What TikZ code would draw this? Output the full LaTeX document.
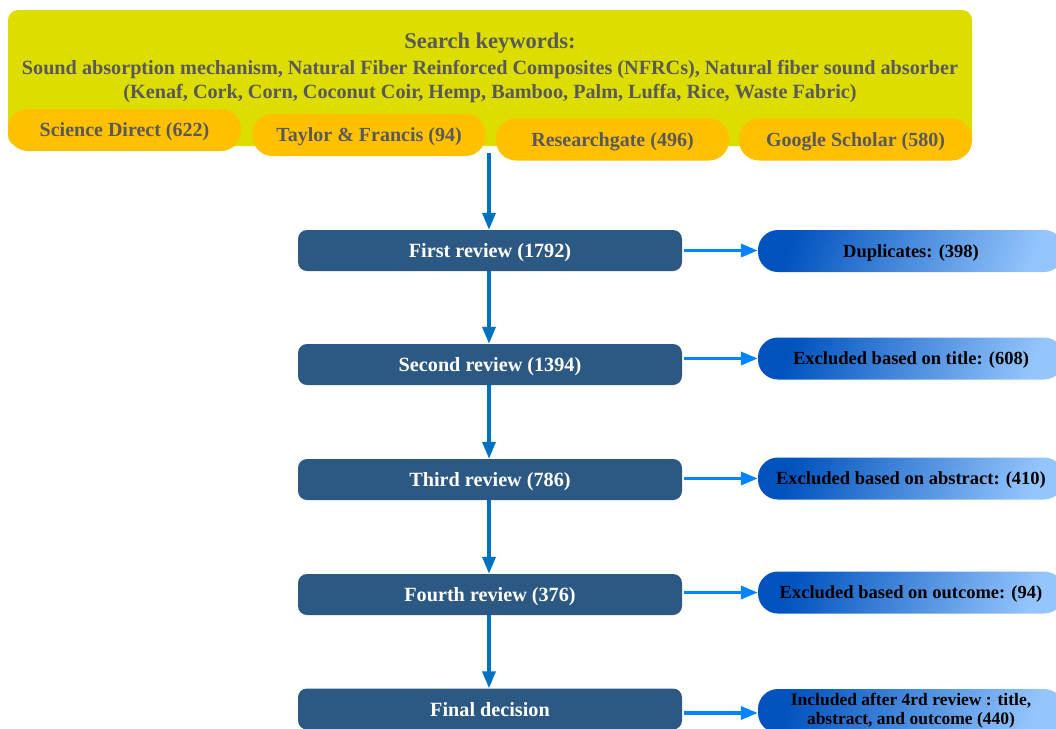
\documentclass[tikz,border=0pt]{standalone}
\usepackage{fontspec}
\setmainfont{Liberation Serif}
\usetikzlibrary{arrows.meta}
\definecolor{ylw}{RGB}{221,221,0}
\definecolor{orng}{RGB}{255,192,0}
\definecolor{txtgrey}{RGB}{89,89,89}
\definecolor{navy}{RGB}{44,88,132}
\definecolor{gdark}{RGB}{0,82,190}
\definecolor{glight}{RGB}{148,197,252}
\definecolor{varrow}{RGB}{0,112,192}
\definecolor{harrow}{RGB}{0,132,255}
\begin{document}
\begin{tikzpicture}[x=1pt,y=-1pt,
  searchbox/.style={fill=ylw,rounded corners=10pt,minimum width=964pt,minimum height=136pt,inner sep=0pt},
  pill/.style={fill=orng,rounded corners=20pt,minimum width=233pt,minimum height=42pt,inner sep=0pt,text depth=0pt,
    font=\fontsize{20}{22}\selectfont\bfseries,text=txtgrey},
  review/.style={fill=navy,rounded corners=9pt,minimum width=384pt,minimum height=41pt,inner sep=0pt,text depth=0pt,
    font=\fontsize{20.2}{22}\selectfont\bfseries,text=white},
  outbox/.style={left color=gdark,right color=glight,shading angle=70,rounded corners=20pt,minimum width=306pt,
    minimum height=42pt,inner sep=0pt,text depth=0pt,font=\fontsize{18.5}{21}\selectfont\bfseries,text=black,align=center},
  varr/.style={draw=varrow,line width=3.5pt,-{Triangle[length=17pt,width=13pt]}},
  harr/.style={draw=harrow,line width=3.5pt,-{Triangle[length=17pt,width=13pt]}},
  kwtext/.style={font=\fontsize{20.2}{22}\selectfont\bfseries,text=txtgrey},
]
\useasboundingbox (0,0) rectangle (1056,728);
\node[searchbox] (search) at (490,78) {};
\node[kwtext,font=\fontsize{22.5}{24}\selectfont\bfseries] (kwtitle) at (490,43.5) {Search keywords:};
\node[kwtext] (kw1) at (490,69.5) {Sound absorption mechanism, Natural Fiber Reinforced Composites (NFRCs), Natural fiber sound absorber};
\node[kwtext] (kw2) at (490,93.5) {(Kenaf, Cork, Corn, Coconut Coir, Hemp, Bamboo, Palm, Luffa, Rice, Waste Fabric)};

\node[pill] (sd) at (124.5,130) {Science Direct (622)};
\node[pill] (tf) at (369,135) {Taylor \& Francis (94)};
\node[pill] (rg) at (612.5,139.5) {Researchgate (496)};
\node[pill] (gs) at (855.5,139.5) {Google Scholar (580)};

\node[review] (r1) at (490,250.5) {First review (1792)};
\node[review] (r2) at (490,364.5) {Second review (1394)};
\node[review] (r3) at (490,479.5) {Third review (786)};
\node[review] (r4) at (490,594.5) {Fourth review (376)};
\node[review] (r5) at (490,709) {Final decision};

\node[outbox] (o1) at (911,251) {Duplicates: (398)};
\node[outbox] (o2) at (911,358.5) {Excluded based on title: (608)};
\node[outbox] (o3) at (911,478.5) {Excluded based on abstract: (410)};
\node[outbox] (o4) at (911,592.5) {Excluded based on outcome: (94)};
\node[outbox,minimum height=44pt,text depth=,font=\fontsize{17.5}{19}\selectfont\bfseries] (o5) at (911,711) {Included after 4rd review : title,\\ abstract, and outcome (440)};

\coordinate (top) at (489,153);
\draw[varr] (top) -- (r1.north -| top);
\draw[varr] (r1.south -| top) -- (r2.north -| top);
\draw[varr] (r2.south -| top) -- (r3.north -| top);
\draw[varr] (r3.south -| top) -- (r4.north -| top);
\draw[varr] (r4.south -| top) -- (r5.north -| top);

\draw[harr] ([xshift=2pt]r1.east) -- (o1.west |- r1.east);
\draw[harr] ([xshift=2pt]r2.east |- o2.west) -- (o2.west);
\draw[harr] ([xshift=2pt]r3.east |- o3.west) -- (o3.west);
\draw[harr] ([xshift=2pt]r4.east |- o4.west) -- (o4.west);
\draw[harr] ([xshift=2pt]r5.east |- 0,713) -- (o5.west |- 0,713);
\end{tikzpicture}
\end{document}
